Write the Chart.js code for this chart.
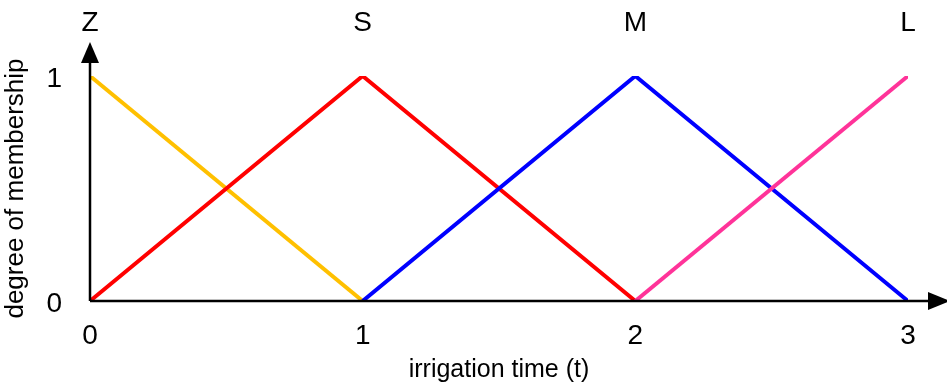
<!DOCTYPE html>
<html>
<head>
<meta charset="utf-8">
<script src="https://cdn.jsdelivr.net/npm/chart.js@4.4.1/dist/chart.umd.min.js"></script>
<style>
  html, body { margin: 0; padding: 0; background: #fff; }
  #wrap { width: 947px; height: 387px; }
</style>
</head>
<body>
<div id="wrap"><canvas id="fuzzyChart" width="947" height="387"></canvas></div>
<script>
// membership functions for irrigation time
const setNames = ["Z", "S", "M", "L"];
const xTicks = [0, 1, 2, 3];
const yTicks = [0, 1];
const zPoints = [{ x: 0, y: 1 }, { x: 1, y: 0 }];
const sPoints = [{ x: 0, y: 0 }, { x: 1, y: 1 }, { x: 2, y: 0 }];
const mPoints = [{ x: 1, y: 0 }, { x: 2, y: 1 }, { x: 3, y: 0 }];
const lPoints = [{ x: 2, y: 0 }, { x: 3, y: 1 }];

const font = "Liberation Sans, Arial, sans-serif";

// axis lines with arrow heads
const arrowAxes = {
  id: "arrowAxes",
  afterDatasetsDraw(chart) {
    const { ctx, scales } = chart;
    const x0 = scales.x.getPixelForValue(0);
    const y0 = scales.y.getPixelForValue(0);
    ctx.save();
    ctx.strokeStyle = "#000";
    ctx.fillStyle = "#000";
    ctx.lineWidth = 2.5;
    ctx.beginPath();
    ctx.moveTo(x0, y0);
    ctx.lineTo(935, y0);
    ctx.moveTo(x0, y0);
    ctx.lineTo(x0, 55);
    ctx.stroke();
    ctx.beginPath();
    ctx.moveTo(x0, 42);
    ctx.lineTo(x0 - 9, 63);
    ctx.lineTo(x0 + 9, 63);
    ctx.closePath();
    ctx.fill();
    ctx.beginPath();
    ctx.moveTo(950, y0);
    ctx.lineTo(928, y0 - 9);
    ctx.lineTo(928, y0 + 9);
    ctx.closePath();
    ctx.fill();
    ctx.restore();
  }
};

// keep tick padding from widening the side margins
const noSidePad = (s, h) => { s.height = h; s.paddingLeft = 0; s.paddingRight = 0; };

const ctx = document.getElementById("fuzzyChart").getContext("2d");

new Chart(ctx, {
  type: "line",
  data: {
    datasets: [
      { label: "Z", data: zPoints, borderColor: "#FFC000", order: 4 },
      { label: "S", data: sPoints, borderColor: "#FF0000", order: 3 },
      { label: "M", data: mPoints, borderColor: "#0000FF", order: 2 },
      { label: "L", data: lPoints, borderColor: "#FF3399", order: 1 }
    ].map((d) => ({ ...d, borderWidth: 4, pointRadius: 0, fill: false, tension: 0 }))
  },
  options: {
    responsive: false,
    animation: false,
    layout: { padding: { left: 0, right: 39, top: 0, bottom: 0 } },
    plugins: { legend: { display: false }, tooltip: { enabled: false } },
    scales: {
      x: {
        type: "linear",
        min: 0,
        max: 3,
        afterBuildTicks: (s) => { s.ticks = xTicks.map((v) => ({ value: v })); },
        grid: { display: false, drawTicks: false },
        border: { display: false },
        ticks: { color: "#000", font: { family: font, size: 28 }, padding: 18, maxRotation: 0 },
        title: { display: true, text: "irrigation time (t)", color: "#000", font: { family: font, size: 25 }, padding: { top: 0, bottom: 2 } },
        afterFit: (s) => noSidePad(s, 86)
      },
      top: {
        type: "linear",
        position: "top",
        min: 0,
        max: 3,
        afterBuildTicks: (s) => { s.ticks = xTicks.map((v) => ({ value: v })); },
        grid: { display: false, drawTicks: false },
        border: { display: false },
        ticks: { color: "#000", font: { family: font, size: 28 }, padding: 36, maxRotation: 0, callback: (v) => setNames[v] },
        afterFit: (s) => noSidePad(s, 76)
      },
      y: {
        type: "linear",
        min: 0,
        max: 1,
        afterBuildTicks: (s) => { s.ticks = yTicks.map((v) => ({ value: v })); },
        grid: { display: false, drawTicks: false },
        border: { display: false },
        ticks: { color: "#000", font: { family: font, size: 28 }, padding: 28, labelOffset: 3 },
        title: { display: true, text: "degree of membership", color: "#000", font: { family: font, size: 26 }, padding: 0 },
        afterFit: (s) => { s.width = 90; }
      }
    }
  },
  plugins: [arrowAxes]
});
</script>
</body>
</html>
